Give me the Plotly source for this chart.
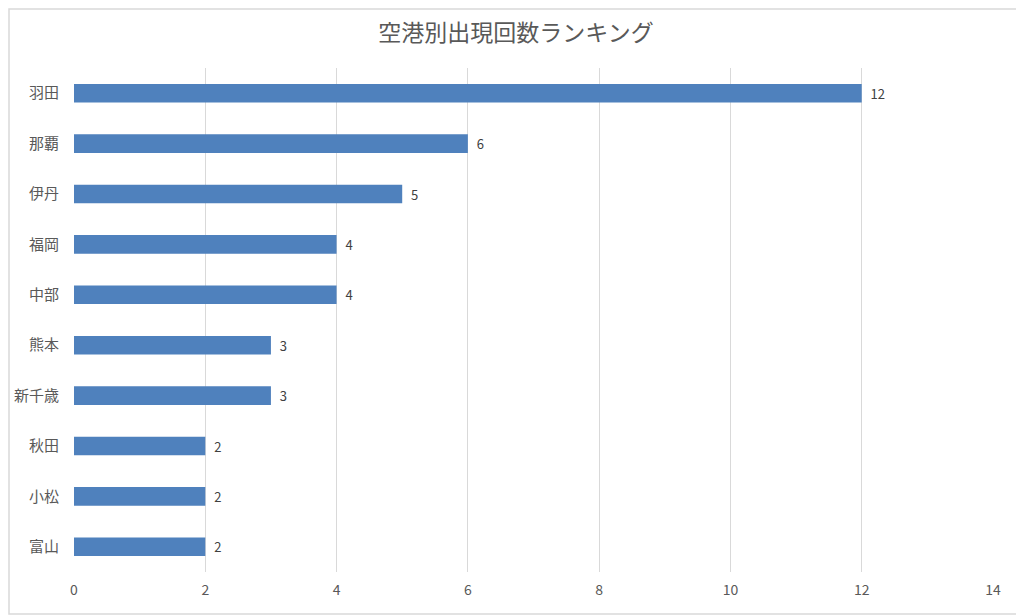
import plotly.graph_objects as go

airports = ["羽田", "那覇", "伊丹", "福岡", "中部", "熊本", "新千歳", "秋田", "小松", "富山"]
counts = [12, 6, 5, 4, 4, 3, 3, 2, 2, 2]
x_ticks = [0, 2, 4, 6, 8, 10, 12, 14]

fig = go.Figure()
fig.add_trace(go.Bar(
    y=airports,
    x=counts,
    orientation="h",
    width=0.37,
    marker=dict(color="#4F81BD", line=dict(width=0)),
    text=["  " + str(c) for c in counts],
    textposition="outside",
    textfont=dict(size=14, color="#404040"),
    cliponaxis=False,
))

# page body has an 8px margin, so the figure is shifted by 8px
fig.update_layout(
    width=1016,
    height=607,
    paper_bgcolor="white",
    plot_bgcolor="white",
    font=dict(family="Noto Sans CJK JP, Noto Sans, sans-serif", color="#595959"),
    title=dict(text="空港別出現回数ランキング", x=0.5, xanchor="center", y=1 - 25/607, yanchor="middle",
               font=dict(size=23, color="#595959")),
    margin=dict(l=66, r=31, t=60, b=43),
    showlegend=False,
    bargap=0.63,
    shapes=[dict(type="rect", xref="paper", yref="paper", x0=-65/919, x1=1+30/919,
                 y0=-42/504, y1=1+59/504, line=dict(color="#D9D9D9", width=1.5))],
)
fig.update_xaxes(
    range=[0, 14],
    tickvals=x_ticks,
    automargin=False,
    showgrid=True,
    gridcolor="#D9D9D9",
    gridwidth=1,
    zeroline=False,
    showline=False,
    ticks="",
    ticklabelstandoff=8,
    tickfont=dict(size=14, color="#595959"),
)
fig.update_yaxes(
    autorange="reversed",
    automargin=False,
    showgrid=False,
    zeroline=False,
    showline=False,
    ticks="",
    ticklabelstandoff=14,
    tickfont=dict(size=15, color="#595959"),
)

fig.write_html("out.html")
